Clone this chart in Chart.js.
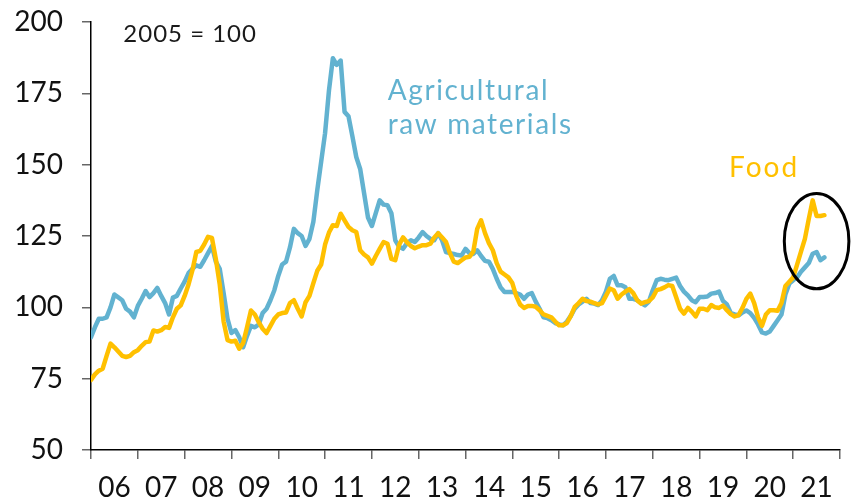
<!DOCTYPE html>
<html>
<head>
<meta charset="utf-8">
<script src="https://cdn.jsdelivr.net/npm/chart.js@4.4.0/dist/chart.umd.min.js"></script>
<style>
  html, body { margin: 0; padding: 0; background: #fff; }
</style>
</head>
<body>
<canvas id="prices" width="851" height="502"></canvas>
<script>
// monthly index, 2005 = 100, Jan 2006 onwards
const startYear = 2006;
const yearLabels = ['06', '07', '08', '09', '10', '11', '12', '13', '14', '15', '16', '17', '18', '19', '20', '21'];
const yTicks = [50, 75, 100, 125, 150, 175, 200];

const food = [
    74.5, 76.5, 77.8, 78.5, 83, 87.3, 86, 84.5, 83, 82.6, 83, 84.3,
    85, 86.5, 87.8, 88, 91.9, 91.5, 92, 93.1, 92.8, 96.5, 99.5, 100.7,
    104, 108, 113, 119.4, 119.8, 122, 124.7, 124.3, 117, 108, 95, 88.5,
    88, 88.3, 85.5, 87.5, 93, 98.9, 97.5, 94.8, 92.5, 91, 93.5, 96,
    97.5, 98, 98.2, 101.5, 102.5, 99.5, 96.8, 101.8, 104, 108.5, 112.8, 115,
    122, 126.2, 128.8, 128.5, 132.8, 130.5, 128.2, 127, 126.4, 120, 118.5, 117.5,
    115.3, 118, 120.5, 122.9, 122.3, 117, 116.5, 122, 124.5, 122.8, 121.5, 120.7,
    121.3, 121.8, 121.8, 122.3, 124.5, 126, 124.5, 122.9, 119, 116, 115.5, 116.5,
    117.5, 117.7, 119.5, 127.5, 130.5, 126, 122.5, 120, 115.5, 112.5, 111.5, 110.5,
    108.5, 104, 101, 99.8, 100.5, 100.5, 100.2, 99, 97.5, 97, 96.5, 95,
    93.7, 93.7, 94.5, 97, 100.2, 101.5, 103, 102.2, 102, 101.5, 101, 101.5,
    104, 106.6, 106, 103, 104.5, 105.5, 106.4, 105, 102.5, 101.3, 101.8, 102.2,
    103.5, 106, 106.4, 107, 107.8, 107.5, 103.5, 99.5, 97.8, 99.8, 98.5, 96.8,
    99.5, 99.5, 99, 100.8, 100, 99.8, 100.6, 99, 97.6, 96.8, 97.3, 99.8,
    103, 104.8, 101.5, 96.5, 93.5, 97.5, 99, 99, 98.8, 101.5, 107.5, 109,
    110.5, 115, 119.5, 124, 131, 137.5, 132, 132, 132.3
];

const agriRaw = [
    89.5, 93, 96, 96, 96.5, 100, 104.5, 103.5, 102.5, 99.5, 98.5, 96.5,
    100.5, 103, 105.7, 103.6, 105, 106.8, 104, 101.5, 97.5, 103.4, 104, 106.6,
    109, 112, 113.5, 114.7, 114.2, 116.5, 119, 121.5, 116, 113.5, 105, 96,
    91, 92, 89.5, 86, 90, 93.5, 93, 94, 98, 99.5, 102.5, 106,
    111, 115, 116, 121, 127.5, 126, 125, 121.5, 124, 130, 141, 151,
    161, 176, 187.3, 185, 186.5, 168.5, 167, 160, 152.7, 148.5, 140, 131.5,
    128.5, 133, 137.5, 136, 135.8, 133, 123.5, 121.2, 120.5, 122.5, 123.5, 122.9,
    124.5, 126.4, 125, 124, 123.5, 126, 123.5, 119.4, 119, 118.7, 118.3, 118.2,
    120.5, 119, 118.7, 120, 118, 116.3, 116, 113.5, 110, 107, 105.4, 105.4,
    105.4, 105, 104.5, 103, 104.5, 105, 102, 99.5, 96.5, 96.2, 95.5, 94.5,
    94, 93.7, 95, 97, 99.5, 101, 102, 103, 101.5, 101.3, 100.8, 102.5,
    105.5, 110, 111, 107.7, 107.7, 107, 103, 103, 102.5, 101.5, 100.7, 102,
    106, 109.5, 110, 109.7, 109.5, 110, 110.4, 107.5, 105.5, 104.2, 102.5, 101.8,
    103.6, 103.6, 103.8, 104.8, 105, 105.5, 102.3, 101, 98, 97.5, 97.2, 98.2,
    98.9, 98, 96.3, 94, 91.2, 90.8, 91.5, 93.5, 95.5, 97.5, 104.5, 108.3,
    109.5, 110.5, 112.5, 114, 115.5, 118.8, 119.4, 116.5, 117.5
];

const BLUE = '#62b2d0';
const GOLD = '#ffc000';
const FONT = 'Lato, "Noto Sans", sans-serif';

const toPoints = arr => arr.map((v, i) => ({ x: startYear + i / 12, y: v }));

// text labels + the ring round the latest readings (placed in data units)
const notes = [
    { text: '2005 = 100', x: 2006.69, y: 193.1, color: '#1a1a1a', size: 24, spacing: 1 },
    { text: 'Agricultural', x: 2012.34, y: 172.6, color: BLUE, size: 28, spacing: 1.6 },
    { text: 'raw materials', x: 2012.34, y: 160.6, color: BLUE, size: 28, spacing: 1.6 },
    { text: 'Food', x: 2019.63, y: 145.7, color: GOLD, size: 28, spacing: 2 }
];
const ring = { x: 2021.5, y: 123.2, rx: 0.69, ry: 16.7 };

const notesPlugin = {
    id: 'notes',
    afterDraw(chart) {
        const ctx = chart.ctx;
        const xs = chart.scales.x, ys = chart.scales.y;
        ctx.save();
        ctx.textBaseline = 'alphabetic';
        ctx.textAlign = 'left';
        notes.forEach(n => {
            ctx.font = n.size + 'px ' + FONT;
            ctx.letterSpacing = n.spacing + 'px';
            ctx.fillStyle = n.color;
            ctx.fillText(n.text, xs.getPixelForValue(n.x), ys.getPixelForValue(n.y));
        });
        const cx = xs.getPixelForValue(ring.x), cy = ys.getPixelForValue(ring.y);
        const rx = xs.getPixelForValue(ring.x + ring.rx) - cx;
        const ry = cy - ys.getPixelForValue(ring.y + ring.ry);
        ctx.beginPath();
        ctx.ellipse(cx, cy, rx, ry, 0, 0, Math.PI * 2);
        ctx.strokeStyle = '#000';
        ctx.lineWidth = 3;
        ctx.stroke();
        ctx.restore();
    }
};

const ctx = document.getElementById('prices').getContext('2d');

const pricesChart = new Chart(ctx, {
    type: 'line',
    data: {
        datasets: [
            { label: 'Food', data: toPoints(food), borderColor: GOLD, borderWidth: 4.5 },
            { label: 'Agricultural raw materials', data: toPoints(agriRaw), borderColor: BLUE, borderWidth: 4.5 }
        ]
    },
    options: {
        responsive: false,
        animation: false,
        layout: { padding: { top: 22, right: 11, left: 0, bottom: 0 } },
        elements: {
            point: { radius: 0 },
            line: { tension: 0, borderJoinStyle: 'round', borderCapStyle: 'round' }
        },
        plugins: {
            legend: { display: false },
            tooltip: { enabled: false }
        },
        scales: {
            x: {
                type: 'linear',
                min: startYear,
                max: startYear + yearLabels.length,
                display: false
            },
            yr: {
                type: 'category',
                labels: yearLabels,
                position: 'bottom',
                offset: true,
                grid: { offset: true, drawOnChartArea: false, tickLength: 9, color: '#666', lineWidth: 1.5 },
                border: { color: '#000', width: 1.5 },
                ticks: { color: '#111', padding: 12, maxRotation: 0, autoSkip: false, font: { family: FONT, size: 28 } },
                afterFit: s => { s.height = 52; }
            },
            y: {
                min: 50,
                max: 200,
                afterBuildTicks: s => { s.ticks = yTicks.map(v => ({ value: v })); },
                grid: { drawOnChartArea: false, tickLength: 9, color: '#666', lineWidth: 1.5 },
                border: { color: '#000', width: 1.5 },
                ticks: { color: '#111', padding: 19, font: { family: FONT, size: 28 } },
                afterFit: s => { s.width = 91; s.paddingTop = 0; s.paddingBottom = 0; }
            }
        }
    },
    plugins: [notesPlugin]
});
</script>
</body>
</html>
